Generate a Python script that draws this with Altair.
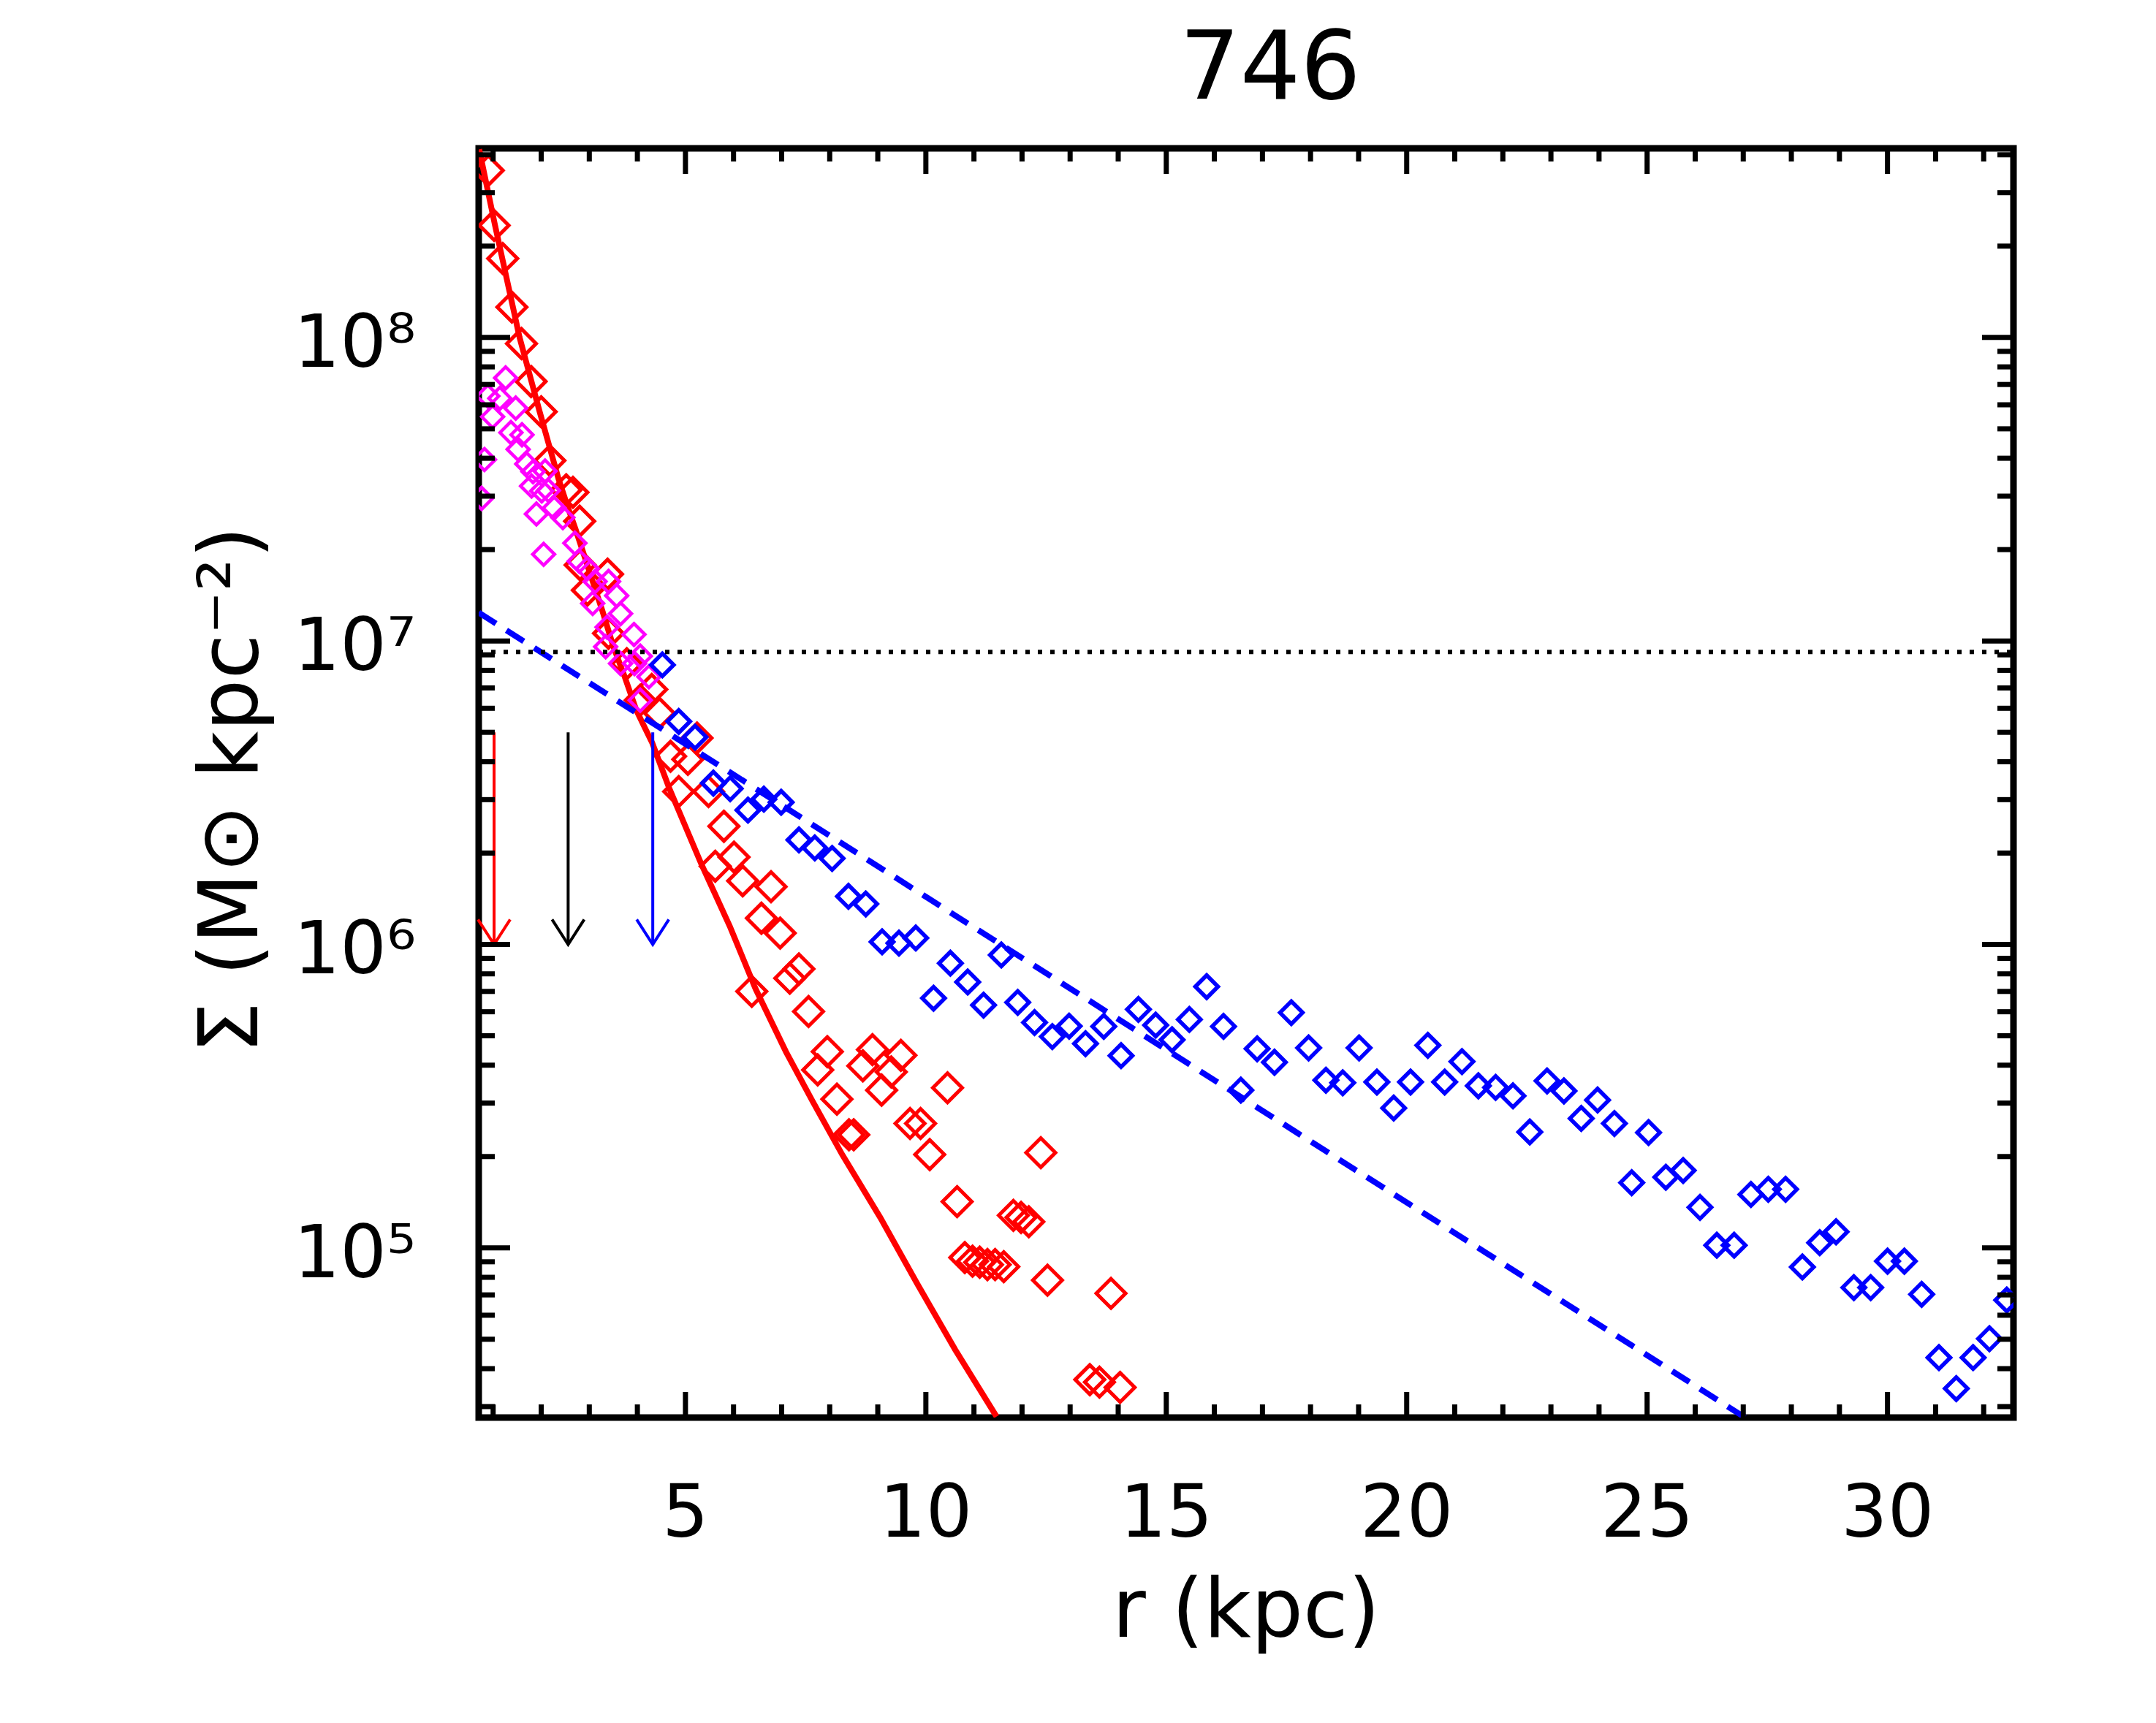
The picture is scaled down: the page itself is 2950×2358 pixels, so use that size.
import altair as alt
import pandas as pd

# ---------------- data ----------------
red_r = [0.90, 1.02, 1.20, 1.39, 1.59, 1.79, 2.00, 2.18, 2.52, 2.66, 2.80, 2.81, 2.96,
         3.38, 3.40, 3.78, 4.06, 4.30, 4.46, 4.69, 4.86, 5.05, 5.24, 5.48, 5.62, 5.80,
         6.01, 6.19, 6.38, 6.58, 6.78, 6.97, 7.17, 7.36, 7.56, 7.75, 7.95, 8.15, 8.40,
         8.50, 8.69, 8.89, 9.08, 9.28, 9.48, 9.67, 9.89, 10.08, 10.45, 10.65, 10.81,
         10.97, 11.12, 11.28, 11.44, 11.62, 11.82, 11.98, 12.14, 12.39, 12.53, 13.41,
         13.61, 13.85, 14.04]
red_s = [3.55e8, 2.34e8, 1.82e8, 1.26e8, 9.55e7, 7.16e7, 5.69e7, 3.93e7, 3.15e7, 3.09e7,
         2.48e7, 1.78e7, 1.47e7, 1.66e7, 1.06e7, 8.41e6, 6.38e6, 6.92e6, 5.78e6, 4.17e6,
         3.19e6, 4.07e6, 4.79e6, 3.19e6, 1.81e6, 2.45e6, 1.94e6, 1.62e6, 7.00e5, 1.22e6,
         1.55e6, 1.09e6, 7.74e5, 8.30e5, 6.01e5, 3.86e5, 4.43e5, 3.09e5, 2.36e5, 2.36e5,
         3.98e5, 4.50e5, 3.31e5, 3.80e5, 4.31e5, 2.57e5, 2.57e5, 2.03e5, 3.37e5, 1.42e5,
         9.29e4, 9.04e4, 8.97e4, 8.81e4, 8.81e4, 8.67e4, 1.28e5, 1.26e5, 1.22e5, 2.06e5,
         7.83e4, 3.68e4, 3.61e4, 7.08e4, 3.47e4]

mag_r = [0.76, 0.82, 0.89, 0.99, 1.14, 1.26, 1.37, 1.47, 1.52, 1.60, 1.70, 1.80, 1.83,
         1.90, 2.01, 2.05, 2.08, 2.15, 2.27, 2.45, 2.70, 2.79, 2.96, 3.07, 3.12, 3.34,
         3.37, 3.40, 3.57, 3.65, 3.65, 3.93, 3.94, 4.06, 4.06, 4.24]
mag_s = [2.95e7, 3.96e7, 6.41e7, 5.48e7, 6.30e7, 7.36e7, 4.86e7, 5.85e7, 4.28e7, 4.78e7,
         3.83e7, 3.24e7, 3.61e7, 2.62e7, 3.12e7, 1.93e7, 3.63e7, 3.13e7, 2.74e7, 2.55e7,
         2.10e7, 1.83e7, 1.73e7, 1.33e7, 1.57e7, 9.57e6, 1.11e7, 1.57e7, 1.41e7, 1.23e7,
         8.43e6, 1.05e7, 8.43e6, 8.91e6, 6.38e6, 7.62e6]

blue_r = [4.52, 4.86, 5.20, 5.58, 5.93, 6.30, 6.63, 6.99, 7.36, 7.69, 8.05, 8.39, 8.75,
          9.09, 9.44, 9.79, 10.16, 10.51, 10.87, 11.20, 11.57, 11.91, 12.26, 12.63, 12.98,
          13.32, 13.70, 14.06, 14.42, 14.78, 15.12, 15.48, 15.84, 16.19, 16.55, 16.89,
          17.25, 17.60, 17.96, 18.32, 18.67, 19.01, 19.38, 19.73, 20.08, 20.44, 20.79,
          21.15, 21.49, 21.85, 22.21, 22.56, 22.92, 23.27, 23.63, 23.97, 24.32, 24.68,
          25.03, 25.39, 25.75, 26.10, 26.45, 26.81, 27.16, 27.52, 27.88, 28.23, 28.59,
          28.93, 29.30, 29.65, 30.00, 30.35, 30.71, 31.07, 31.43, 31.78, 32.12, 32.48]
blue_s = [8.34e6, 5.43e6, 4.82e6, 3.40e6, 3.26e6, 2.77e6, 3.01e6, 2.94e6, 2.21e6, 2.08e6,
          1.92e6, 1.44e6, 1.36e6, 1.02e6, 1.01e6, 1.05e6, 6.65e5, 8.67e5, 7.52e5, 6.31e5,
          9.23e5, 6.44e5, 5.53e5, 4.97e5, 5.38e5, 4.71e5, 5.37e5, 4.30e5, 6.11e5, 5.42e5,
          4.85e5, 5.66e5, 7.26e5, 5.37e5, 3.31e5, 4.53e5, 4.09e5, 5.96e5, 4.56e5, 3.57e5,
          3.50e5, 4.56e5, 3.52e5, 2.89e5, 3.52e5, 4.65e5, 3.52e5, 4.11e5, 3.42e5, 3.38e5,
          3.17e5, 2.41e5, 3.55e5, 3.29e5, 2.67e5, 3.07e5, 2.57e5, 1.64e5, 2.40e5, 1.71e5,
          1.80e5, 1.36e5, 1.02e5, 1.02e5, 1.50e5, 1.56e5, 1.56e5, 8.65e4, 1.04e5, 1.13e5,
          7.40e4, 7.40e4, 9.04e4, 9.04e4, 7.03e4, 4.35e4, 3.44e4, 4.35e4, 5.02e4, 6.73e4]

fit_red_r = [0.71, 1.04, 1.55, 1.96, 2.18, 2.36, 2.54, 2.72, 3.27, 3.50, 3.73, 3.98,
             4.31, 4.66, 5.33, 5.92, 6.46, 7.09, 7.64, 8.26, 9.05, 9.83, 10.61, 11.47]
fit_red_s = [4.17e8, 2.34e8, 1.0e8, 5.75e7, 4.32e7, 3.42e7, 2.80e7, 2.32e7, 1.26e7,
             9.59e6, 7.67e6, 5.90e6, 4.61e6, 3.28e6, 1.84e6, 1.15e6, 7.13e5, 4.43e5,
             3.05e5, 2.03e5, 1.26e5, 7.57e4, 4.62e4, 2.78e4]

fit_blue_r = [0.70, 27.04]
fit_blue_s = [1.24e7, 2.76e4]

threshold = [9.2e6]

arrow_r = [1.02, 2.56, 4.32]
arrow_c = ["red", "black", "blue"]
arrow_top = [5.0e6, 5.0e6, 5.0e6]
arrow_bot = [1.0e6, 1.0e6, 1.0e6]

x_major = [5, 10, 15, 20, 25, 30]
x_labels = ["5", "10", "15", "20", "25", "30"]
x_minor = [1, 2, 3, 4, 6, 7, 8, 9, 11, 12, 13, 14, 16, 17, 18, 19, 21, 22, 23, 24,
           26, 27, 28, 29, 31, 32]
y_major = [1e5, 1e6, 1e7, 1e8]
y_labels = ["10⁵", "10⁶", "10⁷", "10⁸"]
y_minor = [3e4, 4e4, 5e4, 6e4, 7e4, 8e4, 9e4,
           2e5, 3e5, 4e5, 5e5, 6e5, 7e5, 8e5, 9e5,
           2e6, 3e6, 4e6, 5e6, 6e6, 7e6, 8e6, 9e6,
           2e7, 3e7, 4e7, 5e7, 6e7, 7e7, 8e7, 9e7,
           2e8, 3e8, 4e8]

title_text = "746"
x_title = "r (kpc)"
y_title = "Σ (M⊙ kpc⁻²)"

# ---------------- layout ----------------
W, H = 2100, 1737
FONT = "DejaVu Sans"
XDOM = [0.70, 32.62]
YDOM = [2.76e4, 4.2e8]

xs = alt.Scale(domain=XDOM, nice=False, zero=False)
ys = alt.Scale(type="log", domain=YDOM, nice=False)


def xenc(field):
    return alt.X(field, type="quantitative", scale=xs, axis=None)


def yenc(field):
    return alt.Y(field, type="quantitative", scale=ys, axis=None)


red_df = pd.DataFrame({"r": red_r, "s": red_s})
mag_df = pd.DataFrame({"r": mag_r, "s": mag_s})
blue_df = pd.DataFrame({"r": blue_r, "s": blue_s})
fr_df = pd.DataFrame({"r": fit_red_r, "s": fit_red_s})
fb_df = pd.DataFrame({"r": fit_blue_r, "s": fit_blue_s})
thr_df = pd.DataFrame({"s": threshold})
arr_df = pd.DataFrame({"r": arrow_r, "c": arrow_c, "top": arrow_top, "bot": arrow_bot})

red_pts = alt.Chart(red_df).mark_point(shape="diamond", size=1600, filled=False, opacity=1,
                                        strokeWidth=5, color="#ff0000", clip=True).encode(
    x=xenc("r"), y=yenc("s"))
red_line = alt.Chart(fr_df).mark_line(color="#ff0000", strokeWidth=8, clip=True).encode(
    x=xenc("r"), y=yenc("s"))
mag_pts = alt.Chart(mag_df).mark_point(shape="diamond", size=900, filled=False, opacity=1,
                                        strokeWidth=4.5, color="#ff00ff", clip=True).encode(
    x=xenc("r"), y=yenc("s"))
blue_pts = alt.Chart(blue_df).mark_point(shape="diamond", size=961, filled=False, opacity=1,
                                          strokeWidth=5.5, color="#0000ff", clip=True).encode(
    x=xenc("r"), y=yenc("s"))
blue_line = alt.Chart(fb_df).mark_line(color="#0000ff", strokeWidth=8, strokeDash=[28, 17],
                                        clip=True).encode(x=xenc("r"), y=yenc("s"))
thr_line = alt.Chart(thr_df).mark_rule(color="black", strokeWidth=6, strokeDash=[6, 11]).encode(
    y=yenc("s"), x=alt.value(0), x2=alt.value(W))

arr_color = alt.Color("c:N", scale=alt.Scale(domain=arrow_c, range=["#ff0000", "#000000", "#0000ff"]),
                      legend=None)
arr_shaft = alt.Chart(arr_df).mark_rule(strokeWidth=4).encode(
    x=xenc("r"), y=yenc("top"), y2="bot:Q", color=arr_color)
arr_head = alt.Chart(arr_df).mark_point(shape="M -1 -1.55 L 0 0 L 1 -1.55", size=1936,
                                         filled=False, opacity=1, strokeWidth=4).encode(
    x=xenc("r"), y=yenc("bot"), color=arr_color)

# inward ticks on all four sides
xM = pd.DataFrame({"v": x_major, "t": x_labels})
xm = pd.DataFrame({"v": x_minor})
yM = pd.DataFrame({"v": y_major, "t": y_labels})
ym = pd.DataFrame({"v": y_minor})
TW = 7
tick_layers = [
    alt.Chart(xM).mark_rule(color="black", strokeWidth=TW).encode(x=xenc("v"), y=alt.value(H), y2=alt.value(H - 35)),
    alt.Chart(xM).mark_rule(color="black", strokeWidth=TW).encode(x=xenc("v"), y=alt.value(0), y2=alt.value(35)),
    alt.Chart(xm).mark_rule(color="black", strokeWidth=TW).encode(x=xenc("v"), y=alt.value(H), y2=alt.value(H - 18)),
    alt.Chart(xm).mark_rule(color="black", strokeWidth=TW).encode(x=xenc("v"), y=alt.value(0), y2=alt.value(18)),
    alt.Chart(yM).mark_rule(color="black", strokeWidth=TW).encode(y=yenc("v"), x=alt.value(0), x2=alt.value(43)),
    alt.Chart(yM).mark_rule(color="black", strokeWidth=TW).encode(y=yenc("v"), x=alt.value(W), x2=alt.value(W - 43)),
    alt.Chart(ym).mark_rule(color="black", strokeWidth=TW).encode(y=yenc("v"), x=alt.value(0), x2=alt.value(22)),
    alt.Chart(ym).mark_rule(color="black", strokeWidth=TW).encode(y=yenc("v"), x=alt.value(W), x2=alt.value(W - 22)),
]

# tick labels and titles as text marks
x_lab = alt.Chart(xM).mark_text(font=FONT, fontSize=100, color="black", align="center",
                                 baseline="alphabetic").encode(
    x=xenc("v"), y=alt.value(H + 163), text="t:N")
y_lab = alt.Chart(yM).mark_text(font=FONT, fontSize=100, color="black", align="right",
                                 baseline="alphabetic", dy=40).encode(
    y=yenc("v"), x=alt.value(-86), text="t:N")

ttl_df = pd.DataFrame({"t": [title_text]})
xt_df = pd.DataFrame({"t": [x_title]})
yt_df = pd.DataFrame({"t": [y_title]})
title_mark = alt.Chart(ttl_df).mark_text(font=FONT, fontSize=130, color="black", align="center",
                                          baseline="middle").encode(
    x=alt.value(1083), y=alt.value(-107), text="t:N")
x_title_mark = alt.Chart(xt_df).mark_text(font=FONT, fontSize=112, color="black", align="center",
                                           baseline="middle").encode(
    x=alt.value(W / 2), y=alt.value(2003), text="t:N")
y_title_mark = alt.Chart(yt_df).mark_text(font=FONT, fontSize=112, color="black", align="center",
                                           baseline="middle", angle=270).encode(
    x=alt.value(-337), y=alt.value(878), text="t:N")

chart = alt.layer(
    red_pts, red_line, mag_pts, blue_pts, blue_line, thr_line, arr_shaft, arr_head,
    *tick_layers, x_lab, y_lab, title_mark, x_title_mark, y_title_mark
).properties(
    width=W, height=H,
    autosize=alt.AutoSizeParams(type="none"),
    padding={"left": 647, "top": 195, "right": 187, "bottom": 410},
    background="white",
).configure_view(
    stroke="black", strokeWidth=9
)

chart.save("out.html", embed_options={"renderer": "svg", "actions": False})
